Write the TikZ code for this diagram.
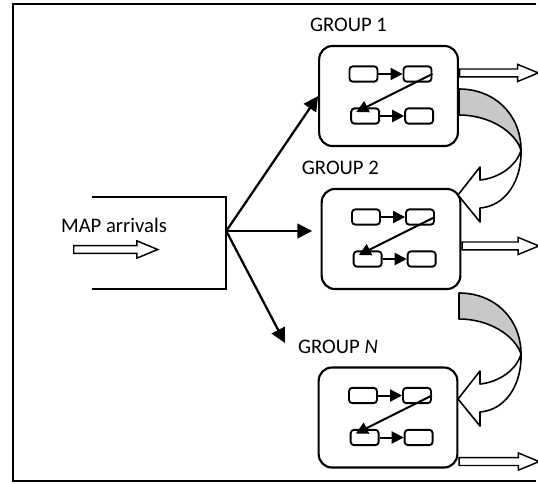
\documentclass[tikz,border=0pt]{standalone}
\usepackage{fontspec}
\setmainfont{Carlito}
\usepackage{tikz}
\usetikzlibrary{calc, arrows.meta, positioning, shapes.arrows}
\definecolor{backgray}{RGB}{200,200,200}

\begin{document}
\begin{tikzpicture}[
        x=0.75pt, y=-0.75pt,
        font=\fontsize{15.5}{18}\selectfont,
        groupbox/.style = {draw, rectangle, rounded corners=10pt, line width=1.6pt, minimum width=104pt, minimum height=75pt},
        queue/.style = {draw, rectangle, rounded corners=2.5pt, line width=1.4pt, minimum width=21pt, minimum height=11.5pt, inner sep=0pt},
        grouplabel/.style = {anchor=base, inner sep=0pt},
        link/.style = {-{Triangle[length=9pt, width=9pt]}, line width=1.5pt},
        fan/.style = {-{Triangle[length=11pt, width=11pt]}, line width=1.7pt},
        outarrow/.style = {draw, single arrow, single arrow head extend=3.5pt, single arrow tip angle=45, inner sep=2.4pt, line width=1.1pt, anchor=tail},
        backflow/.style = {draw, line width=1.2pt, line join=round}
    ]
        \useasboundingbox (0,0) rectangle (538,483);

        % Frame
        \draw [line width=1.2pt] (536,4) -- (13,4) -- (13,481) -- (536,481);

        % Arrival box
        \node (mapbox) [minimum width=100.5pt, minimum height=69pt] at (159,243) {};
        \draw [line width=1.2pt] (mapbox.north west) -- (mapbox.north east) -- (mapbox.south east) -- (mapbox.south west);
        \node (maptext) at (114,225) {MAP arrivals};
        \node (mapin) [outarrow, minimum height=63pt] at (73,249.5) {};
        \coordinate (split) at ($(mapbox.east)+(0,9pt)$);

        % Groups
        \node (group1) [groupbox] at (388.5,96) {};
        \node (group2) [groupbox] at (391,239) {};
        \node (groupN) [groupbox] at (388,417.5) {};

        \node (lab1) [grouplabel] at ($(group1.north)+(-30pt,9.75pt)$) {GROUP 1};
        \node (lab2) [grouplabel] at ($(group2.north)+(-38pt,9.75pt)$) {GROUP 2};
        \node (labN) [grouplabel] at ($(groupN.north)+(-37.5pt,9.75pt)$) {GROUP \textit{N}};

        % Queues inside each group
        \foreach \g in {group1, group2, groupN} {
            \node (\g-q1) [queue] at ($(\g.center)+(-18.75pt,16.5pt)$) {};
            \node (\g-q2) [queue] at ($(\g.center)+(21.75pt,16.5pt)$) {};
            \node (\g-q3) [queue] at ($(\g.center)+(-17.5pt,-15pt)$) {};
            \node (\g-q4) [queue] at ($(\g.center)+(23pt,-15pt)$) {};
            \draw [link] (\g-q1) -- (\g-q2);
            \draw [link] (\g-q2.east) -- ($(\g-q3.west)+(4.5pt,3pt)$);
            \draw [link] (\g-q3) -- (\g-q4);
        }

        % Dispatching
        \coordinate (toN) at (285,343);
        \draw [fan] (split) -- (group1.west);
        \draw [fan, shorten >=6.4pt] (split) -- (split -| group2.west);
        \draw [fan] (split) -- (toN);

        % Departures
        \node (out1) [outarrow, minimum height=59pt] at ($(group1.north east)+(0,-21pt)$) {};
        \node (out2) [outarrow, minimum height=57.5pt] at ($(group2.north east)+(0,-43.5pt)$) {};
        \node (outN) [outarrow, minimum height=60pt] at ($(groupN.south east)+(0,5.25pt)$) {};

        % Overflow to next group
        \foreach \dy in {0, 204} {
            \begin{scope}[shift={(0,\dy)}]
                \filldraw [backflow, fill=backgray] (459,89) .. controls (495,89) and (521,115) .. (521,150)
                    .. controls (515,132) and (490,115) .. (459,115) -- cycle;
                \filldraw [backflow, fill=white] (521,150) .. controls (522,180) and (506,206) .. (480,208)
                    -- (480,222) -- (458,195) -- (480,167) -- (480,180)
                    .. controls (500,178) and (517,165) .. (521,150) -- cycle;
            \end{scope}
        }

    \end{tikzpicture}
\end{document}
